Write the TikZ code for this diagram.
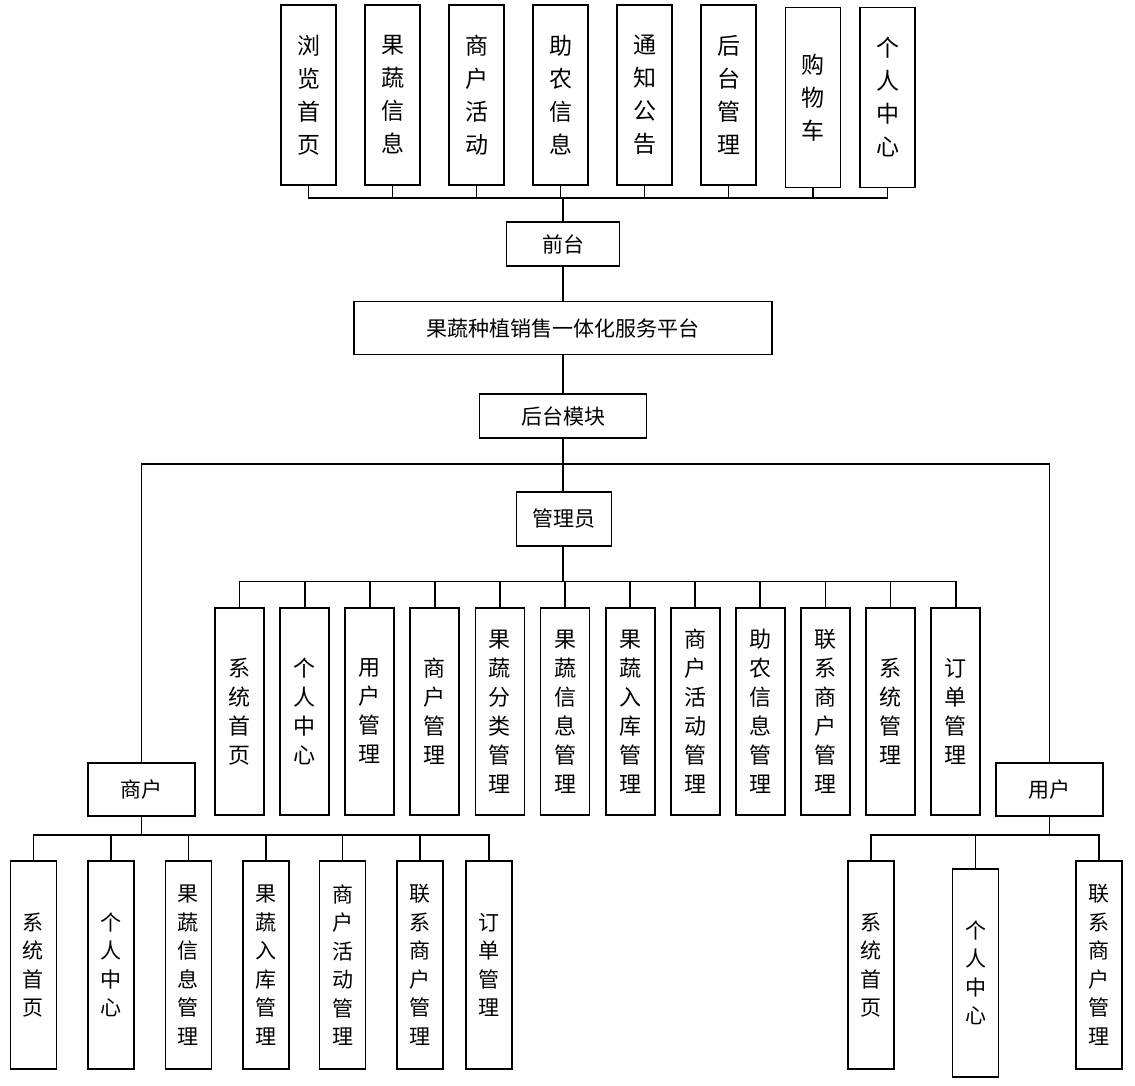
\documentclass[tikz,border=0pt]{standalone}
\usepackage{fontspec}
\setmainfont{Noto Sans CJK SC}
\begin{document}
\begin{tikzpicture}[x=1pt,y=-1pt,
    box/.style={draw,line width=1.8pt,inner sep=0pt,font=\fontsize{21}{21}\selectfont},
    colbox/.style={draw,line width=1.8pt,inner sep=0pt,align=center},
    topbox/.style={colbox,minimum width=55pt,minimum height=180pt,font=\fontsize{23}{33}\selectfont},
    admbox/.style={colbox,minimum width=49pt,minimum height=207pt,font=\fontsize{22}{29}\selectfont},
    subbox/.style={colbox,minimum width=46pt,minimum height=208pt,font=\fontsize{21}{28.5}\selectfont},
    link/.style={line width=1.8pt}]
    \useasboundingbox (0,0) rectangle (1135,1086);

    % front-end modules
    \foreach \i/\x/\y/\txt in {1/308.5/95/{浏\\览\\首\\页}, 2/392.5/95/{果\\蔬\\信\\息},
        3/476.5/95/{商\\户\\活\\动}, 4/560.5/95/{助\\农\\信\\息}, 5/644.5/95/{通\\知\\公\\告},
        6/728.5/95/{后\\台\\管\\理}, 7/813/97.5/{购\\物\\车}, 8/887.5/97.5/{个\\人\\中\\心}}
        \node[topbox] (t\i) at (\x,\y) {\txt};

    \node[box,minimum width=113pt,minimum height=44pt] (qt) at (563,244) {前台};
    \node[box,minimum width=418pt,minimum height=53pt] (pt) at (563,328) {果蔬种植销售一体化服务平台};
    \node[box,minimum width=167pt,minimum height=44pt] (ht) at (563,416) {后台模块};
    \node[box,minimum width=95pt,minimum height=54pt] (gl) at (564,519) {管理员};
    \node[box,minimum width=107pt,minimum height=53pt] (sh) at (141.5,789.5) {商户};
    \node[box,minimum width=107pt,minimum height=53pt] (yh) at (1049.5,789.5) {用户};

    % admin modules
    \foreach \i/\txt in {0/{系\\统\\首\\页}, 1/{个\\人\\中\\心}, 2/{用\\户\\管\\理},
        3/{商\\户\\管\\理}, 4/{果\\蔬\\分\\类\\管\\理}, 5/{果\\蔬\\信\\息\\管\\理},
        6/{果\\蔬\\入\\库\\管\\理}, 7/{商\\户\\活\\动\\管\\理}, 8/{助\\农\\信\\息\\管\\理},
        9/{联\\系\\商\\户\\管\\理}, 10/{系\\统\\管\\理}, 11/{订\\单\\管\\理}}
        \node[admbox] (a\i) at (239.5+65.1*\i,711.5) {\txt};

    % merchant modules
    \foreach \i/\x/\txt in {1/33.5/{系\\统\\首\\页}, 2/111.2/{个\\人\\中\\心},
        3/188.4/{果\\蔬\\信\\息\\管\\理}, 4/265.7/{果\\蔬\\入\\库\\管\\理},
        5/342.5/{商\\户\\活\\动\\管\\理}, 6/419.8/{联\\系\\商\\户\\管\\理}, 7/488.7/{订\\单\\管\\理}}
        \node[subbox] (s\i) at (\x,965) {\txt};

    % user modules
    \node[subbox] (u1) at (871,965) {系\\统\\首\\页};
    \node[subbox] (u2) at (975.5,973) {个\\人\\中\\心};
    \node[subbox] (u3) at (1099.3,965) {联\\系\\商\\户\\管\\理};

    % buses
    \coordinate (fbus) at (563,198);
    \coordinate (bbus) at (563,464);
    \coordinate (abus) at (563,581.5);
    \coordinate (sbus) at (141.5,835);
    \coordinate (ubus) at (1049.5,835);

    \draw[link] (t1.south) |- (fbus) -| (t8.south);
    \foreach \i in {2,...,7}
        \draw[link] (t\i.south) -- (t\i.south |- fbus);
    \draw[link] (fbus) -- (qt.north);
    \draw[link] (qt) -- (pt);
    \draw[link] (pt) -- (ht);
    \draw[link] (ht.south) -- (bbus) -- (bbus |- gl.north);
    \draw[link] (sh.north) |- (bbus) -| (yh.north);

    \draw[link] (abus |- gl.south) -- (abus);
    \draw[link] (a0.north) |- (abus) -| (a11.north);
    \foreach \i in {1,...,10}
        \draw[link] (a\i.north) -- (a\i.north |- abus);

    \draw[link] (sh.south) -- (sbus);
    \draw[link] (s1.north) |- (sbus) -| (s7.north);
    \foreach \i in {2,...,6}
        \draw[link] (s\i.north) -- (s\i.north |- sbus);

    \draw[link] (yh.south) -- (ubus);
    \draw[link] (u1.north) |- (ubus) -| (u3.north);
    \draw[link] (u2.north) -- (u2.north |- ubus);
\end{tikzpicture}
\end{document}
